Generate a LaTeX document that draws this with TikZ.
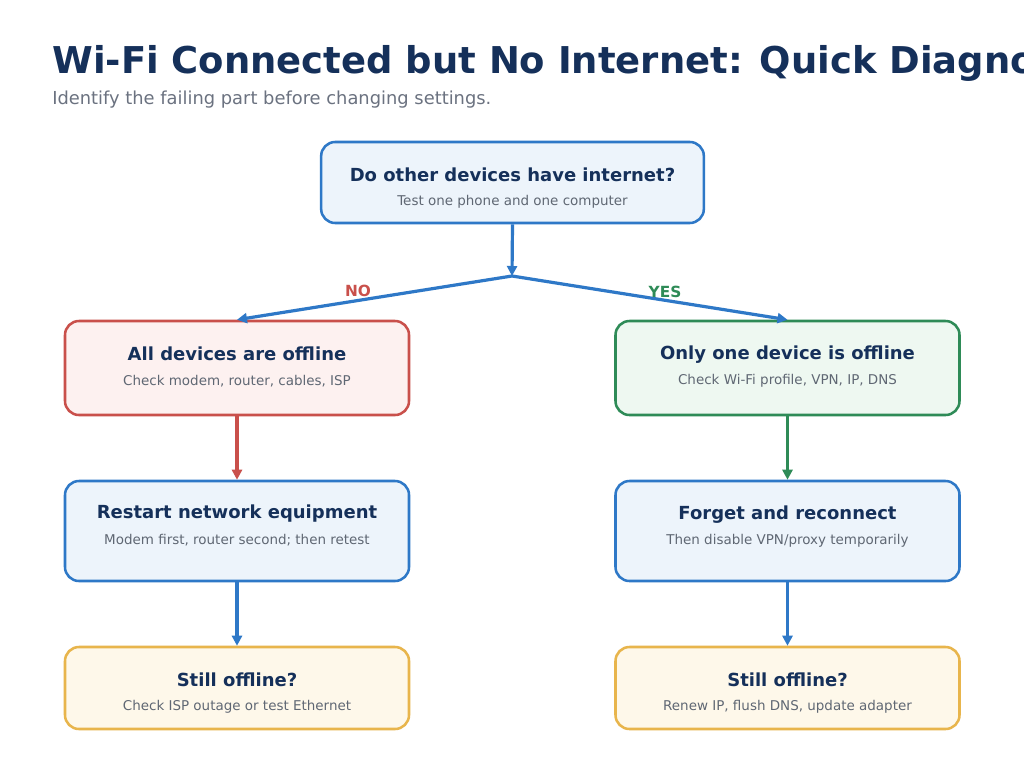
\documentclass[tikz,border=0pt]{standalone}
\usepackage{fontspec}
\setmainfont{DejaVu Sans}
\usetikzlibrary{arrows.meta}
\definecolor{navy}{HTML}{15305A}
\definecolor{greytxt}{HTML}{5F6773}
\definecolor{subgrey}{HTML}{6B7280}
\definecolor{bblue}{HTML}{2E78C7}
\definecolor{fblue}{HTML}{EDF4FB}
\definecolor{bred}{HTML}{C9504B}
\definecolor{fred}{HTML}{FDF1F0}
\definecolor{bgreen}{HTML}{2E8B57}
\definecolor{fgreen}{HTML}{EEF8F1}
\definecolor{byellow}{HTML}{E8B54C}
\definecolor{fyellow}{HTML}{FEF8EA}
\tikzset{
  box/.style={rectangle, rounded corners=10.5pt, line width=1.9pt, inner sep=0pt, minimum width=258pt},
  bluebox/.style={box, draw=bblue, fill=fblue},
  redbox/.style={box, draw=bred, fill=fred},
  greenbox/.style={box, draw=bgreen, fill=fgreen},
  yellowbox/.style={box, draw=byellow, fill=fyellow},
  ttl/.style={anchor=base, inner sep=0pt, font=\fontsize{13.5pt}{16pt}\selectfont\bfseries, text=navy},
  sub/.style={anchor=base, inner sep=0pt, font=\fontsize{10.1pt}{12pt}\selectfont, text=greytxt},
  conn/.style={line width=2.4pt, -{Triangle[length=7.5pt,width=7.5pt]}},
  lbl/.style={anchor=base, inner sep=0pt, font=\fontsize{11.5pt}{14pt}\selectfont\bfseries}
}
\begin{document}
\begin{tikzpicture}[x=0.75pt,y=-0.75pt]
\useasboundingbox[fill=white] (0,0) rectangle (1024,768);
% heading
\node[anchor=base west, inner sep=0pt, font=\fontsize{27.7pt}{34pt}\selectfont\bfseries, text=navy] (title) at (52,73) {Wi-Fi Connected but No Internet: Quick Diagnosis};
\node[anchor=base west, inner sep=0pt, font=\fontsize{13.4pt}{16pt}\selectfont, text=subgrey] (subtitle) at (52,104) {Identify the failing part before changing settings.};
% boxes
\node[bluebox, minimum width=287pt, minimum height=60.75pt] (q) at (512.5,182.5) {};
\node[redbox, minimum height=70.5pt] (l1) at (237,368) {};
\node[bluebox, minimum height=75pt] (l2) at (237,531) {};
\node[yellowbox, minimum height=61.5pt] (l3) at (237,688) {};
\node[greenbox, minimum height=70.5pt] (r1) at (787.5,368) {};
\node[bluebox, minimum height=75pt] (r2) at (787.5,531) {};
\node[yellowbox, minimum height=61.5pt] (r3) at (787.5,688) {};
% texts
\node[ttl] (qt) at (512.5,181.7) {Do other devices have internet?};
\node[sub] (qs) at (512.5,205) {Test one phone and one computer};
\node[ttl] (l1t) at (237,360.5) {All devices are offline};
\node[sub] (l1s) at (237,385) {Check modem, router, cables, ISP};
\node[ttl] (l2t) at (237,518.5) {Restart network equipment};
\node[sub] (l2s) at (237,544.3) {Modem first, router second; then retest};
\node[ttl] (l3t) at (237,686.7) {Still offline?};
\node[sub] (l3s) at (237,710) {Check ISP outage or test Ethernet};
\node[ttl] (r1t) at (787.5,359) {Only one device is offline};
\node[sub] (r1s) at (787.5,384) {Check Wi-Fi profile, VPN, IP, DNS};
\node[ttl] (r2t) at (787.5,519) {Forget and reconnect};
\node[sub] (r2s) at (787.5,544) {Then disable VPN/proxy temporarily};
\node[ttl] (r3t) at (787.5,686.7) {Still offline?};
\node[sub] (r3s) at (787.5,710) {Renew IP, flush DNS, update adapter};
% connectors
\coordinate (split) at (512,276);
\draw[conn, draw=bblue, fill=bblue] (q.south) -- (split);
\draw[conn, draw=bblue, fill=bblue] (split) -- (l1.north);
\draw[conn, draw=bblue, fill=bblue] (split) -- (r1.north);
\draw[conn, draw=bred, fill=bred] (l1.south) -- (l2.north);
\draw[conn, draw=bblue, fill=bblue] (l2.south) -- (l3.north);
\draw[conn, draw=bgreen, fill=bgreen] (r1.south) -- (r2.north);
\draw[conn, draw=bblue, fill=bblue] (r2.south) -- (r3.north);
\node[lbl, text=bred] (no) at (358,296.7) {NO};
\node[lbl, text=bgreen] (yes) at (665,297) {YES};
\end{tikzpicture}
\end{document}
